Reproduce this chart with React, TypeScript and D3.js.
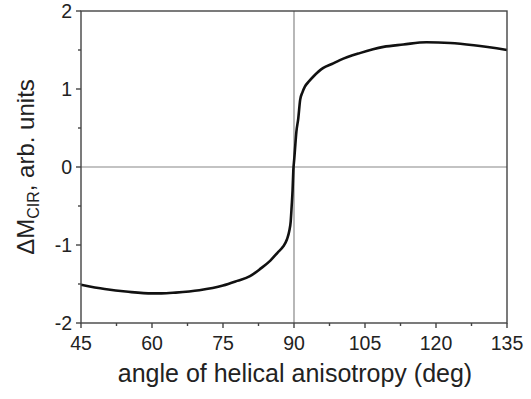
import React from "react";
import * as d3 from "d3";

const angles = [45, 50, 55, 60, 62, 65, 70, 75, 78, 80.7, 83, 85, 86.5, 87.7, 88.5, 89, 89.3, 89.5, 89.7, 89.86, 90.05, 90.2, 90.5, 90.9, 91.3, 91.8, 92.3, 93.2, 94.1, 96.2, 98, 99.7, 103.9, 108.9, 113.1, 118, 123, 128, 135];
const values = [-1.51, -1.565, -1.6, -1.62, -1.62, -1.61, -1.58, -1.52, -1.46, -1.4, -1.3, -1.2, -1.1, -1.02, -0.93, -0.82, -0.7, -0.51, -0.3, -0.04, 0.1, 0.22, 0.45, 0.62, 0.86, 0.96, 1.03, 1.1, 1.16, 1.27, 1.32, 1.37, 1.46, 1.54, 1.57, 1.6, 1.59, 1.56, 1.5];
const xTicks = [45, 60, 75, 90, 105, 120, 135];
const xMinor = [52.5, 67.5, 82.5, 97.5, 112.5, 127.5];
const yTicks = [-2, -1, 0, 1, 2];
const yMinor = [-1.5, -0.5, 0.5, 1.5];

export default function App() {
  const W = 531, H = 399;
  const L = 81, R = 507, T = 11, B = 323;
  const x = d3.scaleLinear().domain([45, 135]).range([L, R]);
  const y = d3.scaleLinear().domain([-2, 2]).range([B, T]);
  const pts = angles.map((a, i) => [a, values[i]] as [number, number]);
  const line = d3.line<[number, number]>().x(d => x(d[0])).y(d => y(d[1])).curve(d3.curveMonotoneX);
  const font = "'Liberation Sans', Arial, sans-serif";
  const axisColor = "#444";
  return (
    <svg width={W} height={H} style={{ position: "absolute", left: 0, top: 0, background: "#fff" }}>
      <rect x={0} y={0} width={W} height={H} fill="#fff" />
      <line x1={L} x2={R} y1={y(0)} y2={y(0)} stroke="#888" strokeWidth={1.2} />
      <line x1={x(90)} x2={x(90)} y1={T} y2={B} stroke="#888" strokeWidth={1.2} />
      <path d={line(pts) || ""} fill="none" stroke="#111" strokeWidth={2.6} strokeLinejoin="round" />
      <rect x={L} y={T} width={R - L} height={B - T} fill="none" stroke={axisColor} strokeWidth={1.4} />
      {xTicks.map(t => (
        <g key={"xt" + t}>
          <line x1={x(t)} x2={x(t)} y1={B} y2={B + 5} stroke={axisColor} strokeWidth={1.4} />
          <text x={x(t)} y={350} fontSize={19.5} fontFamily={font} textAnchor="middle" fill="#222">{t}</text>
        </g>
      ))}
      {xMinor.map(t => (
        <line key={"xm" + t} x1={x(t)} x2={x(t)} y1={B} y2={B + 3} stroke={axisColor} strokeWidth={1.4} />
      ))}
      {yTicks.map(t => (
        <g key={"yt" + t}>
          <line x1={L - 5} x2={L} y1={y(t)} y2={y(t)} stroke={axisColor} strokeWidth={1.4} />
          <text x={72} y={y(t) + 7} fontSize={19.5} fontFamily={font} textAnchor="end" fill="#222">{t}</text>
        </g>
      ))}
      {yMinor.map(t => (
        <line key={"ym" + t} x1={L - 3} x2={L} y1={y(t)} y2={y(t)} stroke={axisColor} strokeWidth={1.4} />
      ))}
      <text x={x(90) + 1} y={382} fontSize={25} fontFamily={font} textAnchor="middle" fill="#222">angle of helical anisotropy (deg)</text>
      <text transform={`translate(34, ${y(0)}) rotate(-90)`} fontSize={24} fontFamily={font} textAnchor="middle" fill="#222">
        <tspan>ΔM</tspan>
        <tspan fontSize={16} dy={5}>CIR</tspan>
        <tspan dy={-5}>, arb. units</tspan>
      </text>
    </svg>
  );
}
